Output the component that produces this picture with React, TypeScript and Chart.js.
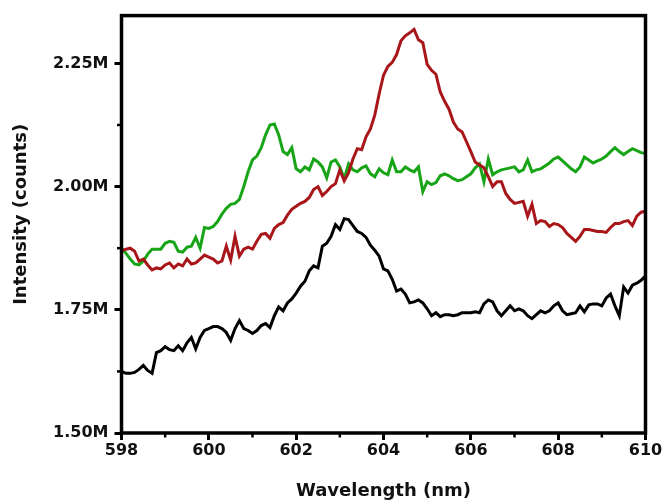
import React, { useEffect, useRef } from "react";
import { Chart, registerables } from "chart.js";

Chart.register(...registerables);

// Wavelength (nm)
const wavelengths = [
  598.0, 598.1, 598.2, 598.3, 598.4, 598.5, 598.6, 598.7, 598.8, 598.9,
  599.0, 599.1, 599.2, 599.3, 599.4, 599.5, 599.6, 599.7, 599.8, 599.9,
  600.0, 600.1, 600.2, 600.3, 600.4, 600.5, 600.6, 600.7, 600.8, 600.9,
  601.0, 601.1, 601.2, 601.3, 601.4, 601.5, 601.6, 601.7, 601.8, 601.9,
  602.0, 602.1, 602.2, 602.3, 602.4, 602.5, 602.6, 602.7, 602.8, 602.9,
  603.0, 603.1, 603.2, 603.3, 603.4, 603.5, 603.6, 603.7, 603.8, 603.9,
  604.0, 604.1, 604.2, 604.3, 604.4, 604.5, 604.6, 604.7, 604.8, 604.9,
  605.0, 605.1, 605.2, 605.3, 605.4, 605.5, 605.6, 605.7, 605.8, 605.9,
  606.0, 606.1, 606.2, 606.3, 606.4, 606.5, 606.6, 606.7, 606.8, 606.9,
  607.0, 607.1, 607.2, 607.3, 607.4, 607.5, 607.6, 607.7, 607.8, 607.9,
  608.0, 608.1, 608.2, 608.3, 608.4, 608.5, 608.6, 608.7, 608.8, 608.9,
  609.0, 609.1, 609.2, 609.3, 609.4, 609.5, 609.6, 609.7, 609.8, 609.9,
  610.0,
];

// Intensity (millions of counts)
const blackSeries = [
  1.625, 1.621, 1.621, 1.623, 1.629, 1.637, 1.627, 1.621, 1.663, 1.667,
  1.675, 1.669, 1.667, 1.677, 1.667, 1.683, 1.694, 1.671, 1.694, 1.708,
  1.712, 1.716, 1.716, 1.712, 1.704, 1.688, 1.712, 1.728, 1.712, 1.708,
  1.702, 1.708, 1.718, 1.722, 1.714, 1.738, 1.756, 1.748, 1.764, 1.772,
  1.784, 1.798, 1.808, 1.829, 1.839, 1.835, 1.879, 1.885, 1.899, 1.923,
  1.913, 1.935, 1.933, 1.921, 1.909, 1.905, 1.897, 1.881, 1.871, 1.859,
  1.833, 1.829, 1.812, 1.788, 1.792, 1.782, 1.764, 1.766, 1.770, 1.764,
  1.752, 1.738, 1.744, 1.736, 1.740, 1.740, 1.738, 1.740, 1.744, 1.744,
  1.744, 1.746, 1.744, 1.762, 1.770, 1.766, 1.748, 1.738, 1.748, 1.758,
  1.748, 1.752, 1.748, 1.738, 1.732, 1.740, 1.748, 1.744, 1.748, 1.758,
  1.764, 1.748, 1.740, 1.742, 1.744, 1.758, 1.746, 1.760, 1.762, 1.762,
  1.758, 1.774, 1.782, 1.758, 1.738, 1.796, 1.784, 1.800, 1.804, 1.810,
  1.819,
];

const redSeries = [
  1.869, 1.873, 1.875, 1.869, 1.849, 1.853, 1.841, 1.831, 1.835, 1.833,
  1.841, 1.845, 1.835, 1.843, 1.839, 1.853, 1.843, 1.845, 1.853, 1.861,
  1.857, 1.853, 1.845, 1.849, 1.879, 1.851, 1.899, 1.859, 1.873, 1.877,
  1.873, 1.889, 1.903, 1.905, 1.895, 1.915, 1.923, 1.927, 1.942, 1.954,
  1.960, 1.966, 1.970, 1.978, 1.994, 2.000, 1.982, 1.990, 2.000, 2.006,
  2.034, 2.012, 2.028, 2.056, 2.077, 2.075, 2.101, 2.117, 2.145, 2.188,
  2.226, 2.244, 2.252, 2.268, 2.296, 2.306, 2.312, 2.319, 2.298, 2.292,
  2.248, 2.236, 2.228, 2.192, 2.173, 2.157, 2.131, 2.117, 2.111, 2.091,
  2.071, 2.050, 2.044, 2.038, 2.020, 2.000, 2.010, 2.010, 1.986, 1.974,
  1.966, 1.968, 1.970, 1.940, 1.964, 1.925, 1.931, 1.929, 1.919, 1.925,
  1.923, 1.917, 1.905, 1.897, 1.889, 1.899, 1.913, 1.913, 1.911, 1.909,
  1.909, 1.907, 1.917, 1.925, 1.925, 1.929, 1.931, 1.921, 1.940, 1.948,
  1.950,
];

const greenSeries = [
  1.875, 1.865, 1.853, 1.843, 1.841, 1.849, 1.863, 1.873, 1.873, 1.873,
  1.885, 1.889, 1.887, 1.869, 1.867, 1.877, 1.879, 1.897, 1.875, 1.917,
  1.915, 1.919, 1.929, 1.944, 1.956, 1.964, 1.966, 1.974, 2.000, 2.030,
  2.054, 2.062, 2.079, 2.105, 2.125, 2.127, 2.105, 2.071, 2.065, 2.079,
  2.036, 2.030, 2.040, 2.034, 2.056, 2.050, 2.040, 2.018, 2.050, 2.054,
  2.040, 2.016, 2.046, 2.034, 2.030, 2.038, 2.042, 2.026, 2.020, 2.036,
  2.028, 2.024, 2.054, 2.030, 2.030, 2.040, 2.034, 2.030, 2.040, 1.990,
  2.010, 2.004, 2.008, 2.022, 2.026, 2.022, 2.016, 2.012, 2.014, 2.020,
  2.026, 2.038, 2.046, 2.010, 2.056, 2.024, 2.030, 2.034, 2.036, 2.038,
  2.040, 2.030, 2.034, 2.054, 2.030, 2.034, 2.036, 2.042, 2.048, 2.056,
  2.060, 2.052, 2.044, 2.036, 2.030, 2.040, 2.060, 2.054, 2.048, 2.052,
  2.056, 2.062, 2.071, 2.079, 2.071, 2.065, 2.071, 2.077, 2.073, 2.069,
  2.067,
];

const xTicks = [598, 600, 602, 604, 606, 608, 610];
const xMinorTicks = [599, 601, 603, 605, 607, 609];
const yTicks = [1.5, 1.75, 2.0, 2.25];
const yMinorTicks = [1.625, 1.875, 2.125];
const yTitle = "Intensity (counts)";
const xTitle = "Wavelength (nm)";

const FONT = "'DejaVu Sans', 'Liberation Sans', Arial, sans-serif";

const framePlugin = {
  id: "frameAndMinorTicks",
  afterDatasetsDraw(chart: any) {
    const { ctx, chartArea: a, scales } = chart;
    ctx.save();
    ctx.strokeStyle = "#000";
    ctx.lineWidth = 3.5;
    ctx.strokeRect(a.left, a.top, a.right - a.left, a.bottom - a.top);
    ctx.lineWidth = 2.5;
    xMinorTicks.forEach((v) => {
      const x = scales.x.getPixelForValue(v);
      ctx.beginPath();
      ctx.moveTo(x, a.bottom);
      ctx.lineTo(x, a.bottom + 4.5);
      ctx.stroke();
    });
    yMinorTicks.forEach((v) => {
      const y = scales.y.getPixelForValue(v);
      ctx.beginPath();
      ctx.moveTo(a.left, y);
      ctx.lineTo(a.left - 4.5, y);
      ctx.stroke();
    });
    // vertical axis title, slightly above the plot-area centre as in the reference
    ctx.fillStyle = "#111";
    ctx.font = `bold 18px ${FONT}`;
    ctx.textAlign = "center";
    ctx.textBaseline = "middle";
    ctx.translate(21, (a.top + a.bottom) / 2 - 10);
    ctx.rotate(-Math.PI / 2);
    ctx.fillText(yTitle, 0, 0);
    ctx.restore();
  },
};

const toPoints = (ys: number[]) => wavelengths.map((x, i) => ({ x, y: ys[i] }));

export default function App() {
  const canvasRef = useRef<HTMLCanvasElement | null>(null);

  useEffect(() => {
    const canvas = canvasRef.current;
    if (!canvas) return;
    const lineDefaults = {
      borderWidth: 3,
      pointRadius: 0,
      tension: 0,
      fill: false,
    };
    const chart = new Chart(canvas, {
      type: "line",
      data: {
        datasets: [
          { label: "black", data: toPoints(blackSeries), borderColor: "#000000", ...lineDefaults },
          { label: "red", data: toPoints(redSeries), borderColor: "#a8161a", ...lineDefaults },
          { label: "green", data: toPoints(greenSeries), borderColor: "#17a417", ...lineDefaults },
        ],
      },
      options: {
        responsive: false,
        animation: false,
        layout: { padding: { top: 12.8, right: 19.5, left: 0, bottom: 0 } },
        plugins: {
          legend: { display: false },
          tooltip: { enabled: false },
        },
        scales: {
          x: {
            type: "linear",
            min: 598,
            max: 610,
            afterBuildTicks: (s: any) => {
              s.ticks = xTicks.map((v) => ({ value: v }));
            },
            afterFit: (s: any) => {
              s.height = 71;
            },
            border: { display: false },
            grid: {
              drawOnChartArea: false,
              drawTicks: true,
              tickLength: 7,
              tickWidth: 3,
              tickColor: "#000",
            },
            ticks: {
              color: "#111",
              padding: 1,
              maxRotation: 0,
              font: { family: FONT, size: 16, weight: "bold" },
              callback: (v: any) => String(v),
            },
            title: {
              display: true,
              text: xTitle,
              color: "#111",
              font: { family: FONT, size: 18, weight: "bold" },
              padding: { top: 0, bottom: 2 },
            },
          },
          y: {
            type: "linear",
            min: 1.5,
            max: 2.347,
            afterBuildTicks: (s: any) => {
              s.ticks = yTicks.map((v) => ({ value: v }));
            },
            afterFit: (s: any) => {
              s.width = 121.5;
            },
            border: { display: false },
            grid: {
              drawOnChartArea: false,
              drawTicks: true,
              tickLength: 7,
              tickWidth: 3,
              tickColor: "#000",
            },
            ticks: {
              color: "#111",
              padding: 6,
              font: { family: FONT, size: 16, weight: "bold" },
              callback: (v: any) => Number(v).toFixed(2) + "M",
            },
            title: { display: false },
          },
        },
      },
      plugins: [framePlugin],
    } as any);
    return () => chart.destroy();
  }, []);

  return (
    <div style={{ position: "fixed", left: 0, top: 0, width: 665, height: 504, background: "#fff" }}>
      <canvas ref={canvasRef} width={665} height={504} style={{ display: "block" }} />
    </div>
  );
}
